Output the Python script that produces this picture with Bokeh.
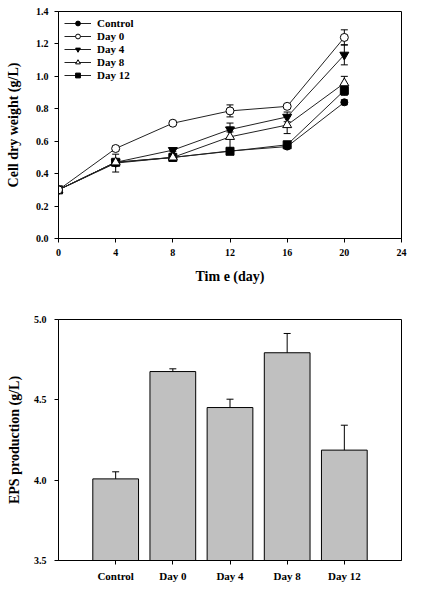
from bokeh.plotting import figure
from bokeh.layouts import column
from bokeh.models import (ColumnDataSource, Whisker, TeeHead, FixedTicker, Legend,
                          LegendItem, FactorRange, Range1d)
from bokeh.embed import file_html
from bokeh.resources import INLINE

# ---------------- data: cell dry weight ----------------
days = [0, 4, 8, 12, 16, 20]
control = [0.30, 0.465, 0.50, 0.540, 0.567, 0.840]
control_err = [0.005, 0.055, 0.010, 0.010, 0.010, 0.015]
day0 = [0.30, 0.555, 0.711, 0.787, 0.815, 1.240]
day0_err = [0.005, 0.015, 0.012, 0.037, 0.012, 0.047]
day4 = [0.30, 0.470, 0.545, 0.672, 0.750, 1.133]
day4_err = [0.005, 0.015, 0.010, 0.015, 0.030, 0.062]
day8 = [0.30, 0.470, 0.500, 0.627, 0.700, 0.958]
day8_err = [0.005, 0.010, 0.010, 0.085, 0.053, 0.042]
day12 = [0.30, 0.470, 0.500, 0.538, 0.578, 0.913]
day12_err = [0.005, 0.010, 0.010, 0.010, 0.012, 0.030]
series_names = ["Control", "Day 0", "Day 4", "Day 8", "Day 12"]
x_ticks = [0, 4, 8, 12, 16, 20, 24]
y_ticks = [0.0, 0.2, 0.4, 0.6, 0.8, 1.0, 1.2, 1.4]

# ---------------- data: EPS production ----------------
groups = ["Control", "Day 0", "Day 4", "Day 8", "Day 12"]
eps = [4.008, 4.676, 4.452, 4.793, 4.187]
eps_err = [0.044, 0.017, 0.052, 0.120, 0.155]
eps_ticks = [3.5, 4.0, 4.5, 5.0]

FONT = "Liberation Serif"


def style_axes(p, tick_size):
    for ax in (p.xaxis[0], p.yaxis[0]):
        ax.axis_line_color = "black"
        ax.major_tick_line_color = "black"
        ax.minor_tick_line_color = None
        ax.major_tick_in = 0
        ax.major_tick_out = 4
        ax.major_label_text_font = FONT
        ax.major_label_text_font_style = "bold"
        ax.major_label_text_font_size = tick_size
        ax.major_label_text_color = "black"
        ax.axis_label_text_font = FONT
        ax.axis_label_text_font_style = "bold"
        ax.axis_label_text_font_size = "14px"
        ax.axis_label_text_color = "black"
    p.xgrid.visible = False
    p.ygrid.visible = False
    p.outline_line_color = "black"
    p.outline_line_width = 1
    p.background_fill_color = "white"
    p.border_fill_color = "white"


# ---------------- top chart ----------------
p1 = figure(width=414, height=308, output_backend="svg", toolbar_location=None,
            x_range=Range1d(0, 24), y_range=Range1d(0, 1.4),
            min_border_left=58, min_border_right=13, min_border_top=11, min_border_bottom=70)
style_axes(p1, "10px")
p1.xaxis.ticker = FixedTicker(ticks=x_ticks)
p1.yaxis.ticker = FixedTicker(ticks=y_ticks)
p1.yaxis.major_label_overrides = {v: f"{v:.1f}" for v in y_ticks}
p1.xaxis.axis_label = "Tim e (day)"
p1.yaxis.axis_label = "Cell dry weight (g/L)"
p1.xaxis.major_label_standoff = 6
p1.yaxis.major_label_standoff = 6
p1.xaxis.axis_label_standoff = 10
p1.yaxis.axis_label_standoff = 12

series = [
    (control, control_err, "circle", "black", 7),
    (day0, day0_err, "circle", "white", 8),
    (day4, day4_err, "inverted_triangle", "black", 9),
    (day8, day8_err, "triangle", "white", 9),
    (day12, day12_err, "square", "black", 8),
]
draw_order = [0, 4, 2, 3, 1]
items = {}
for i in draw_order:
    vals, errs, marker, fill, size = series[i]
    src = ColumnDataSource(dict(x=days, y=vals,
                                lo=[v - e for v, e in zip(vals, errs)],
                                hi=[v + e for v, e in zip(vals, errs)]))
    w = Whisker(base="x", lower="lo", upper="hi", source=src, line_color="black", line_width=1,
                upper_head=TeeHead(size=7, line_color="black", line_width=1),
                lower_head=TeeHead(size=7, line_color="black", line_width=1))
    p1.add_layout(w)
    ln = p1.line("x", "y", source=src, line_color="#222222", line_width=1)
    sc = p1.scatter("x", "y", source=src, marker=marker, size=size, fill_color=fill,
                    line_color="black", line_width=1)
    items[i] = LegendItem(label=series_names[i], renderers=[ln, sc])

legend = Legend(items=[items[i] for i in range(5)], location="top_left",
                margin=2, padding=4, spacing=1, glyph_width=27, glyph_height=12,
                label_height=12, label_standoff=6,
                label_text_font=FONT, label_text_font_style="bold",
                label_text_font_size="11px", label_text_color="black",
                background_fill_alpha=0, border_line_alpha=0)
p1.add_layout(legend)

# ---------------- bottom chart ----------------
p2 = figure(width=414, height=285, output_backend="svg", toolbar_location=None,
            x_range=FactorRange(factors=groups, range_padding=0.2),
            y_range=Range1d(3.5, 5.0),
            min_border_left=56, min_border_right=10, min_border_top=11, min_border_bottom=33)
style_axes(p2, "10px")
p2.xaxis.major_label_text_font_size = "11px"
p2.yaxis.ticker = FixedTicker(ticks=eps_ticks)
p2.yaxis.major_label_overrides = {v: f"{v:.1f}" for v in eps_ticks}
p2.yaxis.axis_label = "EPS production (g/L)"
p2.xaxis.major_label_standoff = 5
p2.yaxis.major_label_standoff = 8
p2.yaxis.axis_label_standoff = 9

bsrc = ColumnDataSource(dict(x=groups, top=eps,
                             hi=[v + e for v, e in zip(eps, eps_err)]))
p2.vbar(x="x", top="top", bottom=3.5, width=0.8, source=bsrc,
        fill_color="#c0c0c0", line_color="black", line_width=1)
p2.add_layout(Whisker(base="x", lower="top", upper="hi", source=bsrc,
                      line_color="black", line_width=1, lower_head=None,
                      upper_head=TeeHead(size=7, line_color="black", line_width=1),
                      level="overlay"))

layout = column(p1, p2, spacing=0)
open("out.html", "w").write(file_html(layout, INLINE))
